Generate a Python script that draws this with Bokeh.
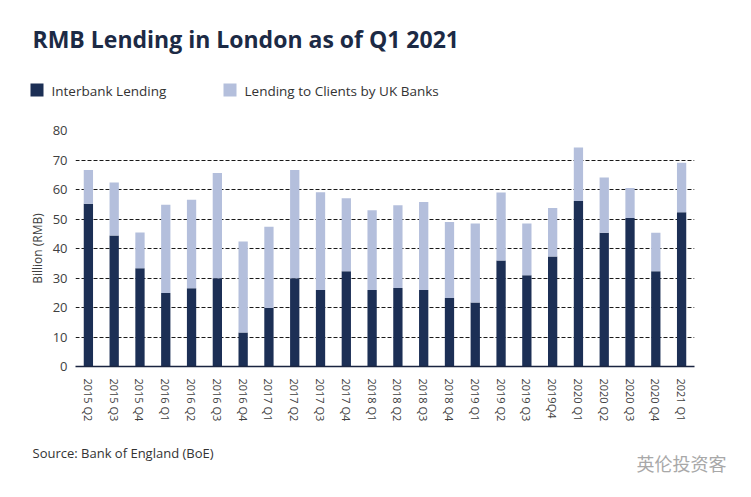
from bokeh.plotting import figure
from bokeh.layouts import column, row
from bokeh.models import (ColumnDataSource, FactorRange, Range1d, FixedTicker, Label)
from bokeh.embed import file_html
from bokeh.resources import INLINE

categories = ["2015 Q2", "2015 Q3", "2015 Q4", "2016 Q1", "2016 Q2", "2016 Q3", "2016 Q4",
              "2017 Q1", "2017 Q2", "2017 Q3", "2017 Q4", "2018 Q1", "2018 Q2", "2018 Q3",
              "2018 Q4", "2019 Q1", "2019 Q2", "2019 Q3", "2019Q4", "2020 Q1", "2020 Q2",
              "2020 Q3", "2020 Q4", "2021 Q1"]
interbank = [55.2, 44.4, 33.3, 24.9, 26.5, 29.9, 11.5, 19.8, 29.9, 25.9, 32.3, 25.9,
             26.6, 25.9, 23.2, 21.7, 35.9, 30.9, 37.3, 56.1, 45.3, 50.3, 32.3, 52.3]
total = [66.6, 62.4, 45.4, 54.8, 56.5, 65.6, 42.4, 47.4, 66.6, 59.1, 57.0, 53.0,
         54.7, 55.8, 49.0, 48.5, 59.0, 48.5, 53.7, 74.2, 64.1, 60.5, 45.3, 69.1]
clients = [round(t - i, 1) for t, i in zip(total, interbank)]
y_ticks = [0, 10, 20, 30, 40, 50, 60, 70, 80]
series_names = ["Interbank Lending", "Lending to Clients by UK Banks"]

DARK = "#1c2f55"
LIGHT = "#b4bfdc"
TXT = "#404040"
FONT = "Open Sans"
W = 751


def blank(h):
    f = figure(width=W, height=h, x_range=Range1d(0, W), y_range=Range1d(h, 0),
               output_backend="svg", toolbar_location=None, min_border=0,
               min_border_left=0, min_border_right=0, min_border_top=0,
               min_border_bottom=0, x_axis_location=None, y_axis_location=None)
    f.outline_line_color = None
    f.xgrid.grid_line_color = None
    f.ygrid.grid_line_color = None
    return f


# ---- header: title + legend (pixel coordinates) ----
HH = 110
head = blank(HH)
head.add_layout(Label(x=32, y=38.5, text="RMB Lending in London as of Q1 2021",
                      text_font=FONT, text_font_size="23px", text_font_style="bold",
                      text_color="#1c2a45", text_baseline="alphabetic"))
for i, (name, col) in enumerate(zip(series_names, [DARK, LIGHT])):
    x0 = [30, 223][i]
    head.quad(left=x0, right=x0 + 13, top=83, bottom=96, color=col, line_color=None)
    head.add_layout(Label(x=x0 + 21, y=90.5, text=name, text_font=FONT,
                          text_font_size="13.5px", text_color="#333333",
                          text_baseline="alphabetic"))

# ---- main chart ----
MH = 330
src = ColumnDataSource(dict(cat=categories, interbank=interbank, clients=clients))
p = figure(width=W, height=MH, x_range=FactorRange(factors=categories),
           y_range=Range1d(0, 80), output_backend="svg", toolbar_location=None,
           min_border_left=75, min_border_right=57, min_border_top=20,
           min_border_bottom=74)
p.outline_line_color = None
p.vbar_stack(["interbank", "clients"], x="cat", width=0.36, color=[DARK, LIGHT],
             line_color=None, source=src)

p.xgrid.grid_line_color = None
p.ygrid.grid_line_color = "#1a1a1a"
p.ygrid.grid_line_dash = "4 2"

p.yaxis.ticker = FixedTicker(ticks=y_ticks)
p.yaxis.axis_line_color = None
p.yaxis.major_tick_line_color = None
p.yaxis.minor_tick_line_color = None
p.yaxis.major_tick_out = 0
p.yaxis.major_tick_in = 0
p.yaxis.minor_tick_out = 0
p.yaxis.major_label_standoff = 8
p.yaxis.major_label_text_font = FONT
p.yaxis.major_label_text_font_size = "13px"
p.yaxis.major_label_text_color = TXT
p.yaxis.axis_label = "Billion (RMB)"
p.yaxis.axis_label_text_font = FONT
p.yaxis.axis_label_text_font_size = "12px"
p.yaxis.axis_label_text_font_style = "normal"
p.yaxis.axis_label_text_color = TXT
p.yaxis.axis_label_standoff = 4

p.xaxis.axis_line_color = "#1a2440"
p.xaxis.axis_line_width = 1.5
p.xaxis.major_tick_line_color = None
p.xaxis.minor_tick_line_color = None
p.xaxis.major_tick_out = 0
p.xaxis.major_tick_in = 0
p.xaxis.major_label_orientation = "vertical"
p.xaxis.major_label_standoff = 12
p.xaxis.major_label_text_font = FONT
p.xaxis.major_label_text_font_size = "11px"
p.xaxis.major_label_text_color = TXT

# ---- footer: source + watermark ----
FH = 497 - HH - MH
foot = blank(FH)
foot.add_layout(Label(x=32, y=12, text="Source: Bank of England (BoE)",
                      text_font=FONT, text_font_size="13px",
                      text_color="#333333", text_baseline="alphabetic"))
foot.add_layout(Label(x=636, y=22, text="英伦投资客", text_font="Noto Sans CJK SC",
                      text_font_size="18px", text_color="#a8a8a8",
                      text_baseline="middle"))

layout = column(row(head), p, row(foot), spacing=0)
open("out.html", "w").write(file_html(layout, INLINE))
